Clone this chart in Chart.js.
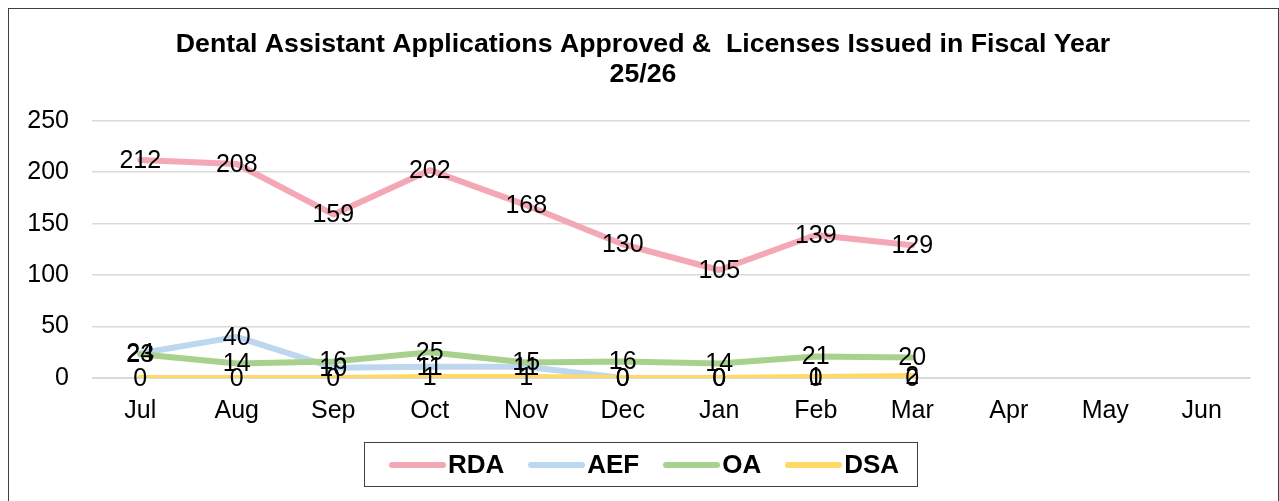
<!DOCTYPE html>
<html>
<head>
<meta charset="utf-8">
<script src="https://cdn.jsdelivr.net/npm/chart.js@4"></script>
<style>
  html, body { margin: 0; padding: 0; background: #fff; }
  #frame {
    position: absolute; left: 8px; top: 8px;
    width: 1271px; height: 500px;
    border: 1px solid #404040; box-sizing: border-box;
  }
  #wrap { position: absolute; left: 0; top: 0; width: 1269px; height: 447px; }
  #legend {
    position: absolute; left: 355px; top: 433px;
    width: 554px; height: 45px; box-sizing: border-box;
    border: 1px solid #404040;
    display: flex; align-items: center; justify-content: center;
    font: bold 26px Arial, "Liberation Sans", sans-serif; color: #000;
    padding-left: 6px;
  }
  .item { display: flex; align-items: center; margin: 0 12px; }
  .swatch { width: 57px; height: 6px; border-radius: 3px; margin-right: 2px; }
</style>
</head>
<body>
<div id="frame">
  <div id="wrap"><canvas id="chart"></canvas></div>
  <div id="legend"></div>
</div>
<script>
// Місяці фінансового року
const months = ['Jul', 'Aug', 'Sep', 'Oct', 'Nov', 'Dec', 'Jan', 'Feb', 'Mar', 'Apr', 'May', 'Jun'];

// Значення серій (квітень-червень ще без даних)
const rda = [212, 208, 159, 202, 168, 130, 105, 139, 129];
const aef = [24, 40, 10, 11, 11, 0, 0, 0, 0];
const oa  = [23, 14, 16, 25, 15, 16, 14, 21, 20];
const dsa = [0, 0, 0, 1, 1, 0, 0, 1, 2];

const yTicks = [0, 50, 100, 150, 200, 250];

const seriesNames = ['RDA', 'AEF', 'OA', 'DSA'];
const seriesColors = ['#F4A7B4', '#BDD7EE', '#A9D18E', '#FFD966'];

const FONT = 'Arial, "Liberation Sans", sans-serif';

// Підписи значень по центру точок
const valueLabels = {
  id: 'valueLabels',
  afterDatasetsDraw(chart) {
    const ctx = chart.ctx;
    ctx.save();
    ctx.font = '25px ' + FONT;
    ctx.fillStyle = '#000';
    ctx.textAlign = 'center';
    ctx.textBaseline = 'middle';
    chart.data.datasets.forEach((ds, i) => {
      const meta = chart.getDatasetMeta(i);
      meta.data.forEach((el, j) => {
        if (ds.data[j] == null) return;
        ctx.fillText(String(ds.data[j]), el.x, el.y + 1);
      });
    });
    ctx.restore();
  }
};

// Заголовок центруємо по всій ширині рамки, а не між відступами
const centerTitle = {
  id: 'centerTitle',
  afterLayout(chart) {
    const t = chart.titleBlock;
    if (!t) return;
    t.left = 0;
    t.right = chart.width - 1;
    t.width = t.right - t.left;
  }
};

function line(label, data, color, order) {
  return {
    label: label,
    data: data,
    borderColor: color,
    backgroundColor: color,
    borderWidth: 6,
    pointRadius: 0,
    tension: 0,
    order: order,
    borderCapStyle: 'round',
    borderJoinStyle: 'round'
  };
}

const seriesData = [rda, aef, oa, dsa];

new Chart(document.getElementById('chart'), {
  type: 'line',
  data: {
    labels: months,
    datasets: seriesNames.map((n, i) => line(n, seriesData[i], seriesColors[i], 4 - i))
  },
  options: {
    responsive: true,
    maintainAspectRatio: false,
    animation: false,
    layout: { padding: { left: 1, right: 28, top: 0, bottom: 12 } },
    plugins: {
      title: {
        display: true,
        text: ['Dental Assistant Applications Approved &  Licenses Issued in Fiscal Year', '25/26'],
        color: '#000',
        font: { family: FONT, size: 26.7, weight: 'bold', lineHeight: 1.12 },
        padding: { top: 21, bottom: 31 }
      },
      legend: { display: false },
      tooltip: { enabled: false }
    },
    scales: {
      x: {
        offset: true,
        grid: { display: false, drawTicks: false },
        border: { color: '#d9d9d9', width: 1 },
        ticks: { color: '#000', font: { family: FONT, size: 25 }, padding: 18, maxRotation: 0 }
      },
      y: {
        min: 0,
        max: 250,
        afterBuildTicks: (axis) => { axis.ticks = yTicks.map(v => ({ value: v })); },
        afterFit: (axis) => { axis.width = 82; },
        grid: { color: '#d9d9d9', drawTicks: false, lineWidth: 1.5 },
        border: { display: false },
        ticks: { color: '#000', font: { family: FONT, size: 25 }, padding: 23 }
      }
    }
  },
  plugins: [valueLabels, centerTitle]
});

// Легенда в рамці під графіком
const legend = document.getElementById('legend');
seriesNames.forEach((n, i) => {
  const item = document.createElement('div');
  item.className = 'item';
  item.innerHTML = `<span class="swatch" style="background:${seriesColors[i]}"></span>${n}`;
  legend.appendChild(item);
});
</script>
</body>
</html>
